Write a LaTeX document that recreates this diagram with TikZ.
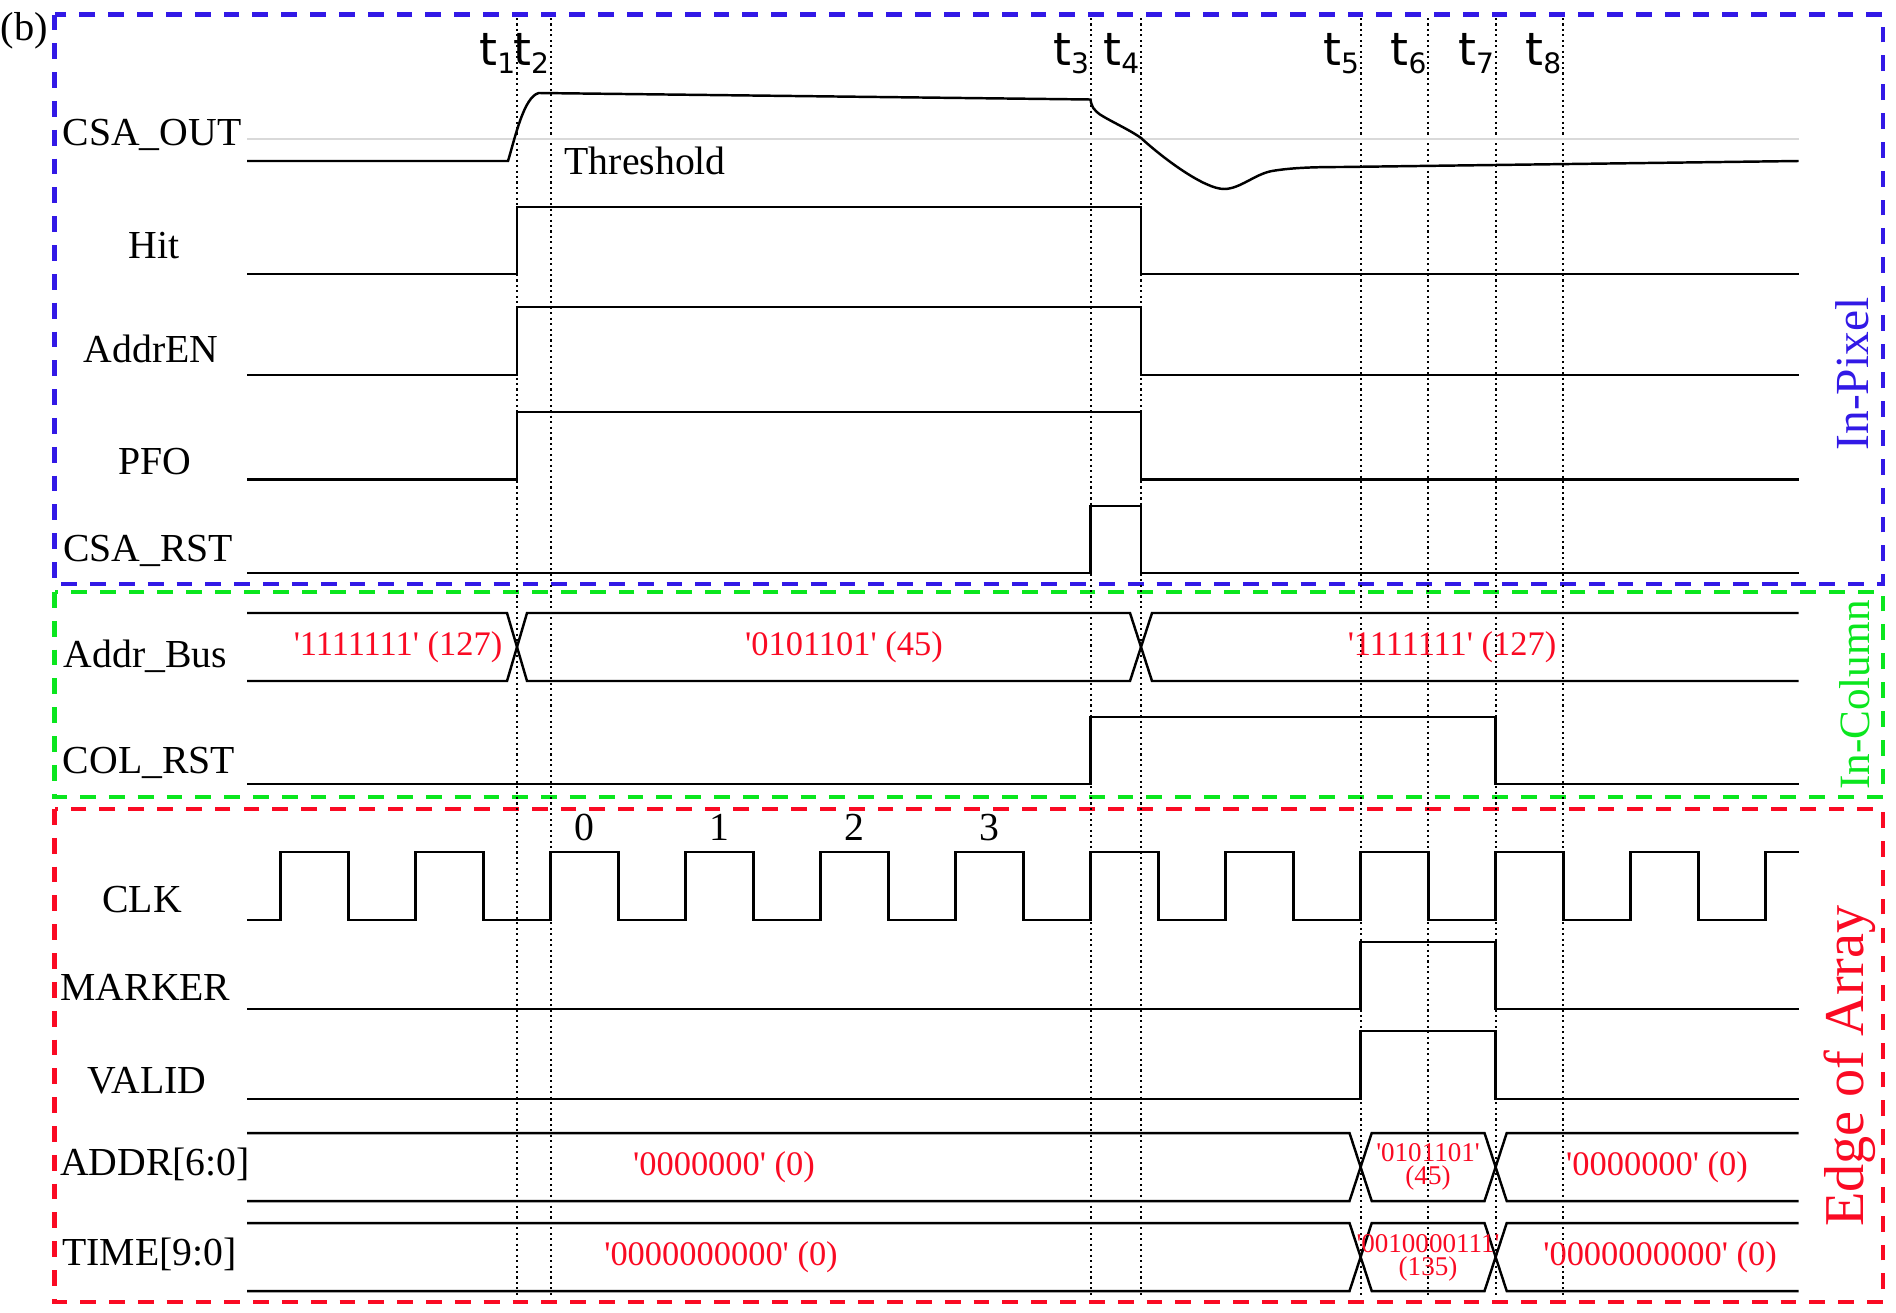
\documentclass[tikz,border=0pt]{standalone}
\usepackage{fontspec}
\setmainfont{Liberation Serif}
\newfontfamily\tfont{DejaVu Sans}
\usepackage{tikz}
\usetikzlibrary{calc}

\definecolor{pixblue}{RGB}{50,25,230}
\definecolor{colgreen}{RGB}{10,230,30}
\definecolor{edgered}{RGB}{250,10,35}

\tikzset{
  wave/.style={line width=0.7pt},
  tline/.style={line width=0.6pt, dash pattern=on 0.6pt off 0.95pt},
  zone/.style={line width=1.15pt, dash pattern=on 4.5pt off 3.7pt},
  siglabel/.style={anchor=base, inner sep=0pt, font=\fontsize{11.3}{13}\selectfont},
  busval/.style={text=edgered, inner sep=0pt, font=\fontsize{9.8}{11}\selectfont},
  busvalsmall/.style={text=edgered, inner sep=0pt, align=center, font=\fontsize{7.7}{6.6}\selectfont},
  sidelabel/.style={rotate=90, anchor=base, inner sep=0pt}
}
\newcommand{\tmark}[1]{{\tfont\fontsize{13}{15}\selectfont t\raisebox{-2.3pt}{\fontsize{8}{9}\selectfont #1}}}
\newcommand{\bits}[1]{\textquotesingle#1\textquotesingle}

\begin{document}
\begin{tikzpicture}[x=0.1mm, y=-0.1mm]
\useasboundingbox (0,0) rectangle (1896,1312);

% zones
\draw[zone, pixblue] (54.5,14.5) rectangle (1883,584);
\draw[zone, colgreen] (54.5,592) rectangle (1883,797);
\draw[zone, edgered] (54.5,809) rectangle (1883,1302);
\path (0,41) node[anchor=base west, inner sep=0pt, font=\fontsize{11.5}{13}\selectfont] (fig) {(b)};

% time markers
\foreach \x/\n in {517/1, 550.6/2, 1090.6/3, 1141/4, 1360.6/5, 1428.2/6, 1495.6/7, 1563/8}
{
  \draw[tline] (\x,18)--(\x,1297);
  \path (\x-1,65) node[anchor=base east, inner sep=0pt] (t\n) {\tmark{\n}};
}

% signal names
\foreach \s/\x/\y [count=\i] in {CSA\_OUT/152/145, Hit/154/258, AddrEN/151/362, PFO/155/474.5,
  CSA\_RST/148/561, Addr\_Bus/145.5/667, COL\_RST/149/773, CLK/142/912, MARKER/145.5/1000,
  VALID/147/1093, {ADDR[6:0]}/155/1175, {TIME[9:0]}/149.5/1265}
  \path (\x,\y) node[siglabel] (sig\i) {\s};

% CSA_OUT and threshold
\draw[gray!30, line width=0.4pt] (247,139)--(1798.6,139);
\path (564,174) node[anchor=base west, inner sep=0pt, font=\fontsize{11.3}{13}\selectfont] (thr) {Threshold};
\draw[wave] (247,161)--(508,161) .. controls (515,138) and (524,96) .. (539,93)--(1090.5,99.5)
  .. controls (1091.5,107) and (1094,110) .. (1100,114.5)
  .. controls (1110,121) and (1130,130) .. (1141,138)
  .. controls (1165,160) and (1205,189) .. (1224,189)
  .. controls (1240,189) and (1255,174) .. (1272,171)
  .. controls (1290,168) and (1310,167) .. (1342,167)--(1798.6,161);

% in-pixel digital lines
\draw[wave] (247,274)--(517,274)--(517,207)--(1141,207)--(1141,274)--(1798.6,274);
\draw[wave] (247,375)--(517,375)--(517,307)--(1141,307)--(1141,375)--(1798.6,375);
\draw[wave] (247,479.5)--(517,479.5)--(517,412)--(1141,412)--(1141,479.5)--(1798.6,479.5);
\draw[wave] (247,573)--(1090.6,573)--(1090.6,506)--(1141,506)--(1141,573)--(1798.6,573);

% Addr_Bus
\draw[wave] (247,613)--(507,613)--(527,681)--(1130,681)--(1152,613)--(1798.6,613);
\draw[wave] (247,681)--(507,681)--(527,613)--(1130,613)--(1152,681)--(1798.6,681);
\path (398,647) node[busval] (ab1) {\bits{1111111} (127)};
\path (844,647) node[busval] (ab2) {\bits{0101101} (45)};
\path (1452,647) node[busval] (ab3) {\bits{1111111} (127)};

% COL_RST
\draw[wave] (247,784)--(1090.6,784)--(1090.6,717)--(1495.6,717)--(1495.6,784)--(1798.6,784);

% CLK
\draw[wave] (247,920) foreach \k in {0,...,10} {
  --({280.6+135*\k},920)--({280.6+135*\k},852)--({348.4+135*\k},852)--({348.4+135*\k},920) }
  --(1765.6,920)--(1765.6,852)--(1798.6,852);
\foreach \c in {0,...,3}
  \path ({584.5+135*\c},840) node[siglabel] (clk\c) {\c};

% MARKER, VALID
\draw[wave] (247,1009)--(1360.6,1009)--(1360.6,942)--(1495.6,942)--(1495.6,1009)--(1798.6,1009);
\draw[wave] (247,1099)--(1360.6,1099)--(1360.6,1031)--(1495.6,1031)--(1495.6,1099)--(1798.6,1099);

% ADDR and TIME buses
\foreach \a/\b in {1133/1201, 1223/1291}
{
  \draw[wave] (247,\a)--(1349.5,\a)--(1371.7,\b)--(1484.5,\b)--(1506.7,\a)--(1798.6,\a);
  \draw[wave] (247,\b)--(1349.5,\b)--(1371.7,\a)--(1484.5,\a)--(1506.7,\b)--(1798.6,\b);
}
\path (724,1167) node[busval] (ad1) {\bits{0000000} (0)};
\path (1428,1166.5) node[busvalsmall] (ad2) {\bits{0101101}\\(45)};
\path (1657,1167) node[busval] (ad3) {\bits{0000000} (0)};
\path (721,1257) node[busval] (tm1) {\bits{0000000000} (0)};
\path (1428,1257.5) node[busvalsmall] (tm2) {\bits{0010000111}\\(135)};
\path (1660,1257) node[busval] (tm3) {\bits{0000000000} (0)};

% zone names
\path (1868,374) node[sidelabel, text=pixblue, font=\fontsize{13.5}{15}\selectfont] (inpix) {In-Pixel};
\path (1869,695) node[sidelabel, text=colgreen, font=\fontsize{12.3}{14}\selectfont] (incol) {In-Column};
\path (1863,1066) node[sidelabel, text=edgered, font=\fontsize{16}{18}\selectfont] (inedge) {Edge of Array};
\end{tikzpicture}
\end{document}
